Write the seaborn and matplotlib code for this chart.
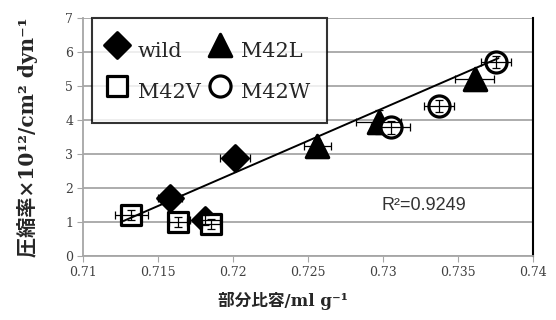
import numpy as np
import pandas as pd
import matplotlib
matplotlib.use("Agg")
import matplotlib.pyplot as plt
import seaborn as sns
from matplotlib.ticker import FuncFormatter

# values
wild_x = [0.7158, 0.7201, 0.7181]
wild_y = [1.72, 2.88, 1.05]
wild_xerr = [0.0008, 0.0010, 0.0010]
wild_yerr = [0.15, 0.15, 0.15]

m42l_x = [0.7256, 0.7297, 0.7361]
m42l_y = [3.25, 3.95, 5.20]
m42l_xerr = [0.0009, 0.0015, 0.0013]
m42l_yerr = [0.15, 0.35, 0.15]

m42v_x = [0.7132, 0.7163, 0.7185]
m42v_y = [1.20, 1.00, 0.95]
m42v_xerr = [0.0011, 0.0006, 0.0006]
m42v_yerr = [0.15, 0.15, 0.15]

m42w_x = [0.7305, 0.7337, 0.7375]
m42w_y = [3.78, 4.42, 5.70]
m42w_xerr = [0.0013, 0.0010, 0.0010]
m42w_yerr = [0.18, 0.18, 0.18]

# linear trend line as drawn in the chart (ends)
trend_x = [0.7127, 0.7377]
trend_y = [1.03, 5.82]
r2_text = "R\u00b2=0.9249"

x_ticks = [0.71, 0.715, 0.72, 0.725, 0.73, 0.735, 0.74]
y_ticks = [0, 1, 2, 3, 4, 5, 6, 7]

rows = []
for name, xs, ys, xe, ye in [("wild", wild_x, wild_y, wild_xerr, wild_yerr),
                             ("M42L", m42l_x, m42l_y, m42l_xerr, m42l_yerr),
                             ("M42V", m42v_x, m42v_y, m42v_xerr, m42v_yerr),
                             ("M42W", m42w_x, m42w_y, m42w_xerr, m42w_yerr)]:
    for x, y, a, b in zip(xs, ys, xe, ye):
        rows.append({"variant": name, "volume": x, "compress": y, "xerr": a, "yerr": b})
df = pd.DataFrame(rows)
trend = pd.DataFrame({"volume": trend_x, "compress": trend_y})

# marker, face colour, size per variant
styles = {
    "wild": ("D", "black", 170),
    "M42L": ("^", "black", 260),
    "M42V": ("s", "white", 190),
    "M42W": ("o", "white", 230),
}

sns.set_style("white")
plt.rcParams["font.family"] = ["DejaVu Serif"]
label_font = ["DejaVu Serif", "Noto Sans CJK JP"]

fig = plt.figure(figsize=(5.56, 3.2), dpi=100)
ax = fig.add_axes([83 / 556, 64 / 320, 450 / 556, 238 / 320])

# grid lines
for yv in y_ticks:
    ax.axhline(yv, color="#a6a6a6", lw=1.3, zorder=0)

for name in ["wild", "M42L", "M42V", "M42W"]:
    sub = df[df["variant"] == name]
    marker, face, size = styles[name]
    sns.scatterplot(data=sub, x="volume", y="compress", marker=marker, s=size,
                    color=face, edgecolor="black", linewidth=2.3,
                    label=name, ax=ax, zorder=3)
    ax.errorbar(sub["volume"], sub["compress"], xerr=sub["xerr"], yerr=sub["yerr"],
                fmt="none", ecolor="black", elinewidth=0.9, capsize=3.2,
                capthick=0.9, zorder=4)

sns.lineplot(data=trend, x="volume", y="compress", color="black", lw=1.4,
             zorder=5, ax=ax)

ax.set_xlim(0.71, 0.74)
ax.set_ylim(0, 7)
ax.set_xticks(x_ticks)
ax.set_yticks(y_ticks)
ax.xaxis.set_major_formatter(FuncFormatter(lambda v, p: f"{v:g}"))
ax.tick_params(axis="both", which="major", direction="out", length=4,
               color="#a6a6a6", labelsize=9, labelcolor="#404040", pad=3,
               bottom=True, left=True)

for side in ["left", "bottom"]:
    ax.spines[side].set_color("#a6a6a6")
    ax.spines[side].set_linewidth(1.3)
ax.spines["top"].set_visible(False)
ax.spines["right"].set_color("black")
ax.spines["right"].set_linewidth(1.5)

ax.text(0.7327, 1.5, r2_text, ha="center", va="center", fontsize=13,
        family="Liberation Sans", color="#333333")

ax.set_xlabel("部分比容/ml g\u207b\u00b9", fontsize=12, fontweight="bold",
              family=label_font)
ax.xaxis.set_label_coords(0.445, -0.15)
ax.set_ylabel("圧縮率×10\u00b9\u00b2/cm\u00b2 dyn\u207b\u00b9", fontsize=14.5,
              fontweight="bold", family=label_font)
ax.yaxis.set_label_coords(-0.10, 0.5)

# legend: two columns, rows wild/M42L and M42V/M42W
handles, labels = ax.get_legend_handles_labels()
order = [labels.index(n) for n in ["wild", "M42V", "M42L", "M42W"]]
leg = ax.legend([handles[i] for i in order], [labels[i] for i in order],
                ncol=2, loc="upper left", bbox_to_anchor=(0.02, 1.0),
                borderaxespad=0, fontsize=15, frameon=True, fancybox=False,
                handletextpad=0.6, columnspacing=0.55, labelspacing=0.5,
                borderpad=0.8, handlelength=0.8, handleheight=1.9)
leg.get_frame().set_edgecolor("black")
leg.get_frame().set_linewidth(1.5)
leg.set_zorder(6)

fig.savefig("out.png", dpi=100)
